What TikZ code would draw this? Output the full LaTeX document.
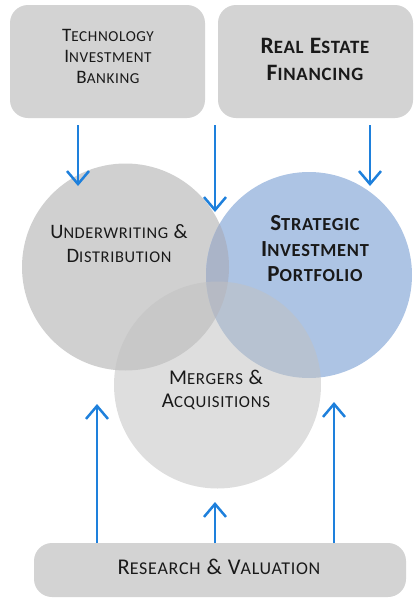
\documentclass[tikz,border=0pt]{standalone}
\usepackage{fontspec}
\setmainfont[LetterSpace=4]{Carlito}
\usetikzlibrary{arrows.meta}
\makeatletter
\newcommand\lc[1]{{\fontsize{\fpeval{0.8*\f@size}}{\f@baselineskip}\selectfont #1}}
\makeatother
\definecolor{boxgray}{RGB}{211,211,211}
\definecolor{cgray}{RGB}{208,208,208}
\definecolor{cblue}{RGB}{173,196,228}
\definecolor{clens}{RGB}{170,180,200}
\definecolor{cbot}{RGB}{193,193,193}
\definecolor{arrblue}{RGB}{30,128,220}
\definecolor{txt}{RGB}{25,25,25}
\tikzset{
  boxnode/.style={fill=boxgray, rounded corners=18pt, inner sep=0pt},
  circnode/.style={circle, inner sep=0pt, minimum size=207pt},
  lbl/.style={align=center, text=txt, inner sep=0pt},
  arr/.style={draw=arrblue, line width=2.5pt, -{Straight Barb[length=13pt,width=22pt]}}
}
\begin{document}
\begin{tikzpicture}[x=1pt,y=-1pt]
\useasboundingbox (0,0) rectangle (416,598);
% boxes
\node[boxnode, minimum width=195pt, minimum height=113pt] (tib) at (107.5,61.5) {};
\node[boxnode, minimum width=195pt, minimum height=113pt] (ref) at (315.5,61.5) {};
\node[boxnode, minimum width=372pt, minimum height=54pt] (rv) at (220,570) {};
% circles
\node[circnode, fill=cgray] (uw) at (125.5,267) {};
\node[circnode, fill=cblue, minimum size=206pt] (sip) at (309,275) {};
\begin{scope}
  \clip (uw.center) circle[radius=103.5pt];
  \fill[clens] (sip.center) circle[radius=103pt];
\end{scope}
\node[circnode, fill=cbot, fill opacity=0.53] (ma) at (217.5,385) {};
% labels
\node[lbl, font=\fontsize{19}{21}\selectfont] (tibt) at (108,56) {T\lc{ECHNOLOGY}\\I\lc{NVESTMENT}\\B\lc{ANKING}};
\node[lbl, font=\bfseries\fontsize{23.5}{27}\selectfont] (reft) at (315,59) {R\lc{EAL} E\lc{STATE}\\F\lc{INANCING}};
\node[lbl, font=\fontsize{20.5}{24}\selectfont] (uwt) at (119,244) {U\lc{NDERWRITING} \&\\D\lc{ISTRIBUTION}};
\node[lbl, font=\bfseries\fontsize{23}{25.5}\selectfont] (sipt) at (315,249) {S\lc{TRATEGIC}\\I\lc{NVESTMENT}\\P\lc{ORTFOLIO}};
\node[lbl, font=\fontsize{21}{23}\selectfont] (mat) at (216,390) {M\lc{ERGERS} \&\\A\lc{CQUISITIONS}};
\node[lbl, font=\fontsize{22.5}{24}\selectfont] (rvt) at (219,567) {R\lc{ESEARCH} \& V\lc{ALUATION}};
% arrow end points
\coordinate (d1s) at (78,125);  \coordinate (d1e) at (78,186);
\coordinate (d2s) at (215,125); \coordinate (d2e) at (215,212);
\coordinate (d3s) at (370,125); \coordinate (d3e) at (370,186);
\coordinate (u1s) at (97,543);  \coordinate (u1e) at (97,404);
\coordinate (u2s) at (215,543); \coordinate (u2e) at (215,502);
\coordinate (u3s) at (334,543); \coordinate (u3e) at (334,402);
\draw[arr] (d1s) -- (d1e);
\draw[arr] (d2s) -- (d2e);
\draw[arr] (d3s) -- (d3e);
\draw[arr] (u1s) -- (u1e);
\draw[arr] (u2s) -- (u2e);
\draw[arr] (u3s) -- (u3e);
\end{tikzpicture}
\end{document}
